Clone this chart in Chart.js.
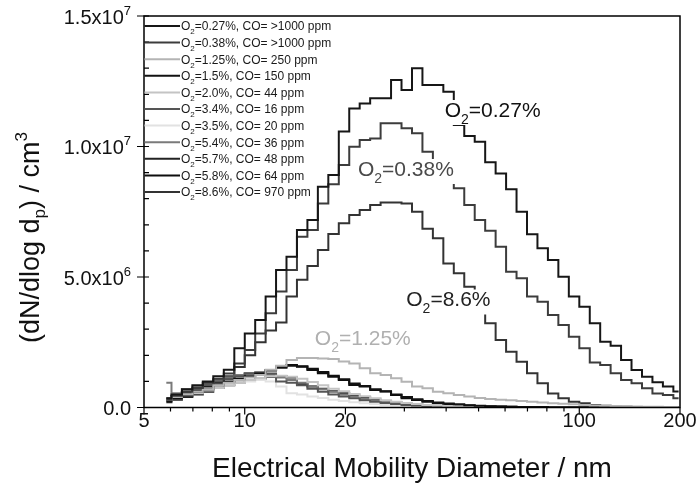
<!doctype html>
<html>
<head>
<meta charset="utf-8">
<title>Particle size distributions</title>
<script src="https://cdn.jsdelivr.net/npm/chart.js@4.4.0/dist/chart.umd.min.js"></script>
<style>
  body { margin: 0; background: #fff; }
</style>
</head>
<body>
<canvas id="canvas" width="698" height="490"></canvas>
<script>
// bin mid-point diameters (nm), 32 channels / decade
const diameters = [5.83, 6.26, 6.73, 7.23, 7.77, 8.35, 8.98, 9.65, 10.37, 11.14,
  11.97, 12.86, 13.82, 14.85, 15.96, 17.15, 18.43, 19.81, 21.28, 22.87,
  24.58, 26.41, 28.38, 30.50, 32.78, 35.22, 37.85, 40.67, 43.71, 46.97,
  50.48, 54.24, 58.29, 62.64, 67.31, 72.33, 77.73, 83.53, 89.76, 96.47,
  103.7, 111.4, 119.7, 128.6, 138.2, 148.5, 159.6, 171.5, 184.3, 198.1];

// dN/dlog dp in units of 1e6 / cm3
const o2_027 = [0.35, 0.50, 0.70, 0.85, 1.00, 1.20, 1.45, 2.27, 2.84, 3.35,
  4.25, 5.27, 5.78, 6.80, 7.18, 8.46, 8.91, 10.57, 11.46, 11.65,
  11.85, 11.85, 12.55, 12.16, 13.00, 12.36, 12.36, 12.10, 10.82, 10.40,
  10.18, 9.40, 8.97, 8.36, 7.50, 6.64, 6.10, 5.65, 5.01, 4.25,
  3.86, 3.23, 2.52, 2.37, 1.82, 1.44, 1.18, 0.97, 0.80, 0.61];
const o2_038 = [0.30, 0.45, 0.60, 0.75, 0.95, 1.10, 1.30, 1.69, 2.20, 2.84,
  3.61, 4.44, 5.27, 6.54, 6.80, 7.82, 8.55, 9.29, 9.99, 10.25,
  10.31, 10.89, 10.89, 10.70, 10.51, 9.80, 9.35, 8.90, 8.40, 7.76,
  7.18, 6.77, 6.16, 5.20, 4.95, 4.25, 4.05, 3.54, 3.16, 2.71,
  2.27, 1.72, 1.63, 1.31, 1.05, 0.93, 0.74, 0.54, 0.48, 0.35];
const o2_125 = [0.30, 0.40, 0.50, 0.60, 0.70, 0.85, 0.95, 1.05, 1.15, 1.25,
  1.45, 1.60, 1.82, 1.90, 1.90, 1.88, 1.86, 1.76, 1.69, 1.50,
  1.31, 1.25, 1.12, 0.99, 0.80, 0.74, 0.60, 0.55, 0.48, 0.42,
  0.36, 0.33, 0.30, 0.28, 0.25, 0.22, 0.19, 0.16, 0.14, 0.12,
  0.10, 0.08, 0.07, 0.06, 0.05, 0.04, 0.03, 0.03, 0.02, 0.02];
const o2_15 = [0.25, 0.35, 0.45, 0.60, 0.70, 0.85, 1.00, 1.10, 1.20, 1.30,
  1.42, 1.52, 1.60, 1.58, 1.48, 1.36, 1.22, 1.08, 0.92, 0.82,
  0.70, 0.62, 0.50, 0.40, 0.32, 0.25, 0.19, 0.15, 0.12, 0.09,
  0.07, 0.05, 0.04, 0.03, 0.02, 0.02, 0.02, 0.01, 0.01, 0.01,
  0.01, 0.01, 0.01, 0.01, 0.01, 0.01, 0.01, 0.01, 0.01, 0.01];
const o2_20 = [0.25, 0.35, 0.45, 0.55, 0.65, 0.75, 0.85, 0.95, 1.05, 1.12,
  1.20, 1.22, 1.18, 1.10, 0.98, 0.85, 0.72, 0.62, 0.52, 0.43,
  0.35, 0.28, 0.22, 0.17, 0.13, 0.10, 0.08, 0.06, 0.05, 0.04,
  0.03, 0.03, 0.02, 0.02, 0.02, 0.01, 0.01, 0.01, 0.01, 0.01,
  0.01, 0.01, 0.01, 0.01, 0.01, 0.01, 0.01, 0.01, 0.01, 0.01];
const o2_34 = [0.35, 0.45, 0.60, 0.70, 0.85, 1.00, 1.10, 1.20, 1.30, 1.35,
  1.30, 1.00, 0.95, 0.85, 0.72, 0.60, 0.50, 0.42, 0.35, 0.28,
  0.22, 0.17, 0.13, 0.10, 0.08, 0.06, 0.05, 0.04, 0.03, 0.03,
  0.02, 0.02, 0.02, 0.01, 0.01, 0.01, 0.01, 0.01, 0.01, 0.01,
  0.01, 0.01, 0.01, 0.01, 0.01, 0.01, 0.01, 0.01, 0.01, 0.01];
const o2_35 = [0.30, 0.40, 0.50, 0.60, 0.70, 0.80, 0.90, 0.95, 1.00, 1.05,
  1.00, 0.80, 0.55, 0.50, 0.42, 0.36, 0.30, 0.25, 0.20, 0.16,
  0.13, 0.10, 0.08, 0.06, 0.05, 0.04, 0.03, 0.03, 0.02, 0.02,
  0.02, 0.01, 0.01, 0.01, 0.01, 0.01, 0.01, 0.01, 0.01, 0.01,
  0.01, 0.01, 0.01, 0.01, 0.01, 0.01, 0.01, 0.01, 0.01, 0.01];
const o2_54 = [0.95, 0.55, 0.70, 0.80, 0.95, 1.05, 1.15, 1.25, 1.30, 1.32,
  1.25, 1.15, 1.05, 0.95, 0.82, 0.70, 0.60, 0.50, 0.42, 0.34,
  0.27, 0.21, 0.16, 0.12, 0.09, 0.07, 0.05, 0.04, 0.03, 0.03,
  0.02, 0.02, 0.02, 0.01, 0.01, 0.01, 0.01, 0.01, 0.01, 0.01,
  0.01, 0.01, 0.01, 0.01, 0.01, 0.01, 0.01, 0.01, 0.01, 0.01];
const o2_57 = [0.20, 0.30, 0.40, 0.50, 0.60, 0.75, 0.85, 0.95, 1.05, 1.10,
  1.18, 1.20, 1.15, 0.90, 0.80, 0.72, 0.62, 0.55, 0.45, 0.38,
  0.30, 0.24, 0.19, 0.15, 0.11, 0.08, 0.06, 0.05, 0.04, 0.03,
  0.02, 0.02, 0.02, 0.01, 0.01, 0.01, 0.01, 0.01, 0.01, 0.01,
  0.01, 0.01, 0.01, 0.01, 0.01, 0.01, 0.01, 0.01, 0.01, 0.01];
const o2_58 = [0.30, 0.40, 0.55, 0.65, 0.80, 0.95, 1.10, 1.20, 1.30, 1.31,
  1.44, 1.56, 1.63, 1.56, 1.44, 1.31, 1.18, 1.05, 0.86, 0.80,
  0.67, 0.61, 0.48, 0.35, 0.29, 0.22, 0.16, 0.13, 0.10, 0.08,
  0.06, 0.05, 0.04, 0.03, 0.02, 0.02, 0.02, 0.01, 0.01, 0.01,
  0.01, 0.01, 0.01, 0.01, 0.01, 0.01, 0.01, 0.01, 0.01, 0.01];
const o2_086 = [0.30, 0.45, 0.60, 0.70, 0.85, 1.00, 1.20, 1.55, 2.00, 2.50,
  2.95, 3.26, 4.25, 4.89, 5.42, 6.03, 6.65, 7.06, 7.38, 7.57,
  7.76, 7.85, 7.85, 7.82, 7.50, 6.85, 6.48, 5.52, 5.14, 4.63,
  4.00, 3.23, 2.59, 2.14, 1.75, 1.31, 0.93, 0.54, 0.35, 0.22,
  0.16, 0.10, 0.07, 0.05, 0.03, 0.02, 0.02, 0.01, 0.01, 0.01];

const o2Levels = ['0.27%', '0.38%', '1.25%', '1.5%', '2.0%', '3.4%', '3.5%', '5.4%', '5.7%', '5.8%', '8.6%'];
const coLevels = ['>1000', '>1000', '250', '150', '44', '16', '20', '36', '48', '64', '970'];
const seriesValues = [o2_027, o2_038, o2_125, o2_15, o2_20, o2_34, o2_35, o2_54, o2_57, o2_58, o2_086];
const seriesColors = ['#161616', '#3c3c3c', '#b4b4b4', '#111111', '#c4c4c4', '#555555',
  '#e2e2e2', '#7a7a7a', '#222222', '#0e0e0e', '#333333'];

const xMajorTicks = [5, 10, 20, 100, 200];
const xMinorTicks = [6, 7, 8, 9, 30, 40, 50, 60, 70, 80, 90];
const yMajorTicks = [0, 5e6, 1e7, 1.5e7];
const yTickMantissa = ['0.0', '5.0x10', '1.0x10', '1.5x10'];
const yTickExponent = ['', '6', '7', '7'];

// in-plot labels: O2 level, anchor diameter, anchor value (1e6), colour
const noteText = ['0.27%', '0.38%', '8.6%', '1.25%'];
const noteX = [39.6, 21.8, 30.4, 16.2];
const noteY = [11.13, 8.87, 3.87, 2.39];
const noteColor = ['#111111', '#4a4a4a', '#222222', '#b0b0b0'];

const FONT = '"Liberation Sans", Arial, Helvetica, sans-serif';

// draw a run of text pieces [text, size, dy]
function drawRich(ctx, parts, x, y, align) {
    var w = 0;
    parts.forEach(function (p) { ctx.font = p[1] + 'px ' + FONT; w += ctx.measureText(p[0]).width; });
    var cx = align === 'right' ? x - w : (align === 'center' ? x - w / 2 : x);
    parts.forEach(function (p) {
        ctx.font = p[1] + 'px ' + FONT;
        ctx.fillText(p[0], cx, y + p[2]);
        cx += ctx.measureText(p[0]).width;
    });
    return w;
}

const decorations = {
    id: 'decorations',
    afterDatasetsDraw: function (chart) {
        var ctx = chart.ctx, xs = chart.scales.x, ys = chart.scales.y, a = chart.chartArea;
        ctx.save();
        ctx.textBaseline = 'alphabetic';

        // in-plot labels with white boxes
        noteText.forEach(function (t, i) {
            var px = xs.getPixelForValue(noteX[i]), py = ys.getPixelForValue(noteY[i] * 1e6);
            var parts = [['O', 21, 0], ['2', 14, 7], ['=' + t, 21, 0]];
            ctx.fillStyle = 'rgba(0,0,0,0)';
            var w = drawRich(ctx, parts, -1000, -1000, 'left');
            ctx.fillStyle = '#fff';
            ctx.fillRect(px - 2, py - 17, w + 4, 25);
            ctx.fillStyle = noteColor[i];
            drawRich(ctx, parts, px, py, 'left');
        });

        // frame
        ctx.strokeStyle = '#000';
        ctx.lineWidth = 1.5;
        ctx.strokeRect(a.left, a.top, a.right - a.left, a.bottom - a.top);

        // ticks
        ctx.lineWidth = 1.2;
        ctx.beginPath();
        xMajorTicks.forEach(function (v) {
            var px = xs.getPixelForValue(v);
            ctx.moveTo(px, a.bottom); ctx.lineTo(px, a.bottom + 7);
        });
        xMinorTicks.forEach(function (v) {
            var px = xs.getPixelForValue(v);
            ctx.moveTo(px, a.bottom); ctx.lineTo(px, a.bottom + 4);
        });
        yMajorTicks.forEach(function (v) {
            var py = ys.getPixelForValue(v);
            ctx.moveTo(a.left - 7, py); ctx.lineTo(a.left + 5, py);
        });
        for (var m = 1e6; m < 1.5e7; m += 1e6) {
            if (m % 5e6 === 0) continue;
            var py = ys.getPixelForValue(m);
            ctx.moveTo(a.left, py); ctx.lineTo(a.left + 5, py);
        }
        ctx.stroke();

        // tick labels
        ctx.fillStyle = '#111';
        xMajorTicks.forEach(function (v) {
            drawRich(ctx, [[String(v), 20, 0]], xs.getPixelForValue(v), 427, 'center');
        });
        yMajorTicks.forEach(function (v, i) {
            var py = ys.getPixelForValue(v) + 7.5;
            var parts = [[yTickMantissa[i], 20, 0]];
            if (yTickExponent[i]) parts.push([yTickExponent[i], 13, -9]);
            drawRich(ctx, parts, 131, py, 'right');
        });

        // axis titles
        drawRich(ctx, [['Electrical Mobility Diameter / nm', 28, 0]], (a.left + a.right) / 2, 477, 'center');
        ctx.save();
        ctx.translate(38.5, 343);
        ctx.rotate(-Math.PI / 2);
        drawRich(ctx, [['(dN/dlog d', 27, 0], ['p', 17, 6], [') / cm', 27, 0], ['3', 17, -12]], 0, 0, 'left');
        ctx.restore();

        // legend
        o2Levels.forEach(function (lv, i) {
            var ly = a.top + 10 + i * 16.6;
            ctx.strokeStyle = seriesColors[i];
            ctx.lineWidth = 2;
            ctx.beginPath();
            ctx.moveTo(a.left + 0.5, ly); ctx.lineTo(a.left + 36, ly);
            ctx.stroke();
            ctx.fillStyle = '#1a1a1a';
            drawRich(ctx, [['O', 12, 0], ['2', 8, 4], ['=' + lv + ', CO= ' + coLevels[i] + ' ppm', 12, 0]],
                a.left + 37, ly + 4.3, 'left');
        });
        ctx.restore();
    }
};

window.onload = function () {
    var ctx = document.getElementById('canvas').getContext('2d');
    window.myChart = new Chart(ctx, {
        type: 'line',
        data: {
            datasets: seriesValues.map(function (vals, i) {
                return {
                    label: 'O2=' + o2Levels[i],
                    data: vals.map(function (v, j) { return { x: diameters[j], y: v * 1e6 }; }),
                    borderColor: seriesColors[i],
                    borderWidth: 2,
                    borderJoinStyle: 'miter',
                    pointRadius: 0,
                    fill: false,
                    stepped: 'middle'
                };
            })
        },
        options: {
            responsive: false,
            animation: false,
            layout: { padding: { left: 0, right: 18, top: 16, bottom: 0 } },
            plugins: { legend: { display: false }, tooltip: { enabled: false } },
            scales: {
                x: {
                    type: 'logarithmic', min: 5, max: 200,
                    grid: { display: false }, border: { display: false },
                    ticks: { display: false },
                    afterFit: function (s) { s.height = 82.5; }
                },
                y: {
                    type: 'linear', min: 0, max: 1.5e7,
                    grid: { display: false }, border: { display: false },
                    ticks: { display: false },
                    afterFit: function (s) { s.width = 144; }
                }
            }
        },
        plugins: [decorations]
    });
};
</script>
</body>
</html>
